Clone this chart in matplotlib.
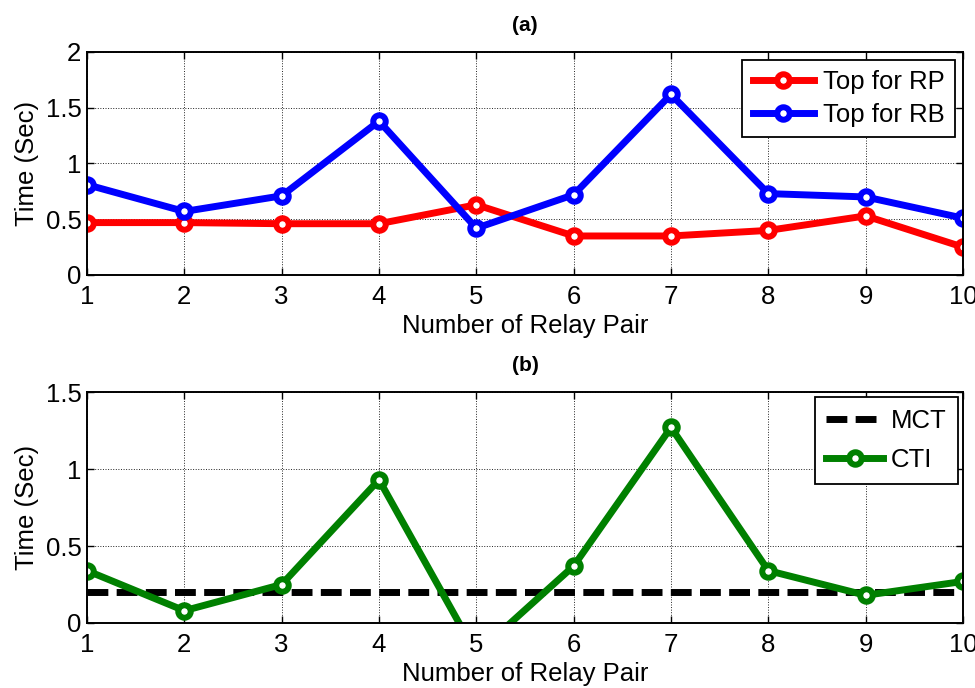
import matplotlib
matplotlib.use("Agg")
import matplotlib.pyplot as plt

relay_pairs = [1, 2, 3, 4, 5, 6, 7, 8, 9, 10]
top_rp = [0.47, 0.47, 0.46, 0.46, 0.63, 0.35, 0.35, 0.40, 0.53, 0.25]
top_rb = [0.81, 0.57, 0.71, 1.38, 0.42, 0.72, 1.62, 0.73, 0.70, 0.51]
cti = [0.34, 0.08, 0.25, 0.93, -0.20, 0.37, 1.27, 0.34, 0.18, 0.27]
mct = 0.2

plt.rcParams['font.family'] = ['Liberation Sans', 'DejaVu Sans']
FS = 18.5

fig = plt.figure(figsize=(9.75, 6.88), dpi=100)
ax1 = fig.add_axes([87/975, 1-275/688, 876/975, 223/688])
ax2 = fig.add_axes([87/975, 1-623/688, 876/975, 231/688])

lw = 5
mk = dict(marker='o', markersize=9, markerfacecolor='white', markeredgewidth=4.3)

ax1.plot(relay_pairs, top_rp, color='#ff0000', lw=lw, markeredgecolor='#ff0000', label='Top for RP', **mk)
ax1.plot(relay_pairs, top_rb, color='#0000ff', lw=lw, markeredgecolor='#0000ff', label='Top for RB', **mk)
ax1.set_ylim(0, 2)
ax1.set_yticks([0, 0.5, 1, 1.5, 2])
ax1.set_yticklabels(['0', '0.5', '1', '1.5', '2'])
ax1.set_title('(a)', fontsize=15, fontweight='bold', pad=15)
leg1 = ax1.legend(loc='upper right', fontsize=FS, handlelength=2.4, frameon=True, fancybox=False,
                  edgecolor='black', framealpha=1, borderaxespad=0.3, labelspacing=0.35,
                  handletextpad=0.35, borderpad=0.4)
leg1.get_frame().set_linewidth(1.3)

mline, = ax2.plot([relay_pairs[0], relay_pairs[-1]], [mct, mct], color='black', lw=lw, label='MCT')
mline.set_dashes((3.0, 1.2))
ax2.plot(relay_pairs, cti, color='#008000', lw=lw, markeredgecolor='#008000', label='CTI', **mk)
ax2.set_ylim(0, 1.5)
ax2.set_yticks([0, 0.5, 1, 1.5])
ax2.set_yticklabels(['0', '0.5', '1', '1.5'])
ax2.set_title('(b)', fontsize=15, fontweight='bold', pad=15)
leg2 = ax2.legend(loc='upper right', fontsize=FS, handlelength=2.2, frameon=True, fancybox=False,
                  edgecolor='black', framealpha=1, borderaxespad=0.2, labelspacing=0.6,
                  handletextpad=0.3, borderpad=0.45)
leg2.get_frame().set_linewidth(1.3)

for ax in (ax1, ax2):
    ax.set_xlim(1, 10)
    ax.set_xticks(relay_pairs)
    ax.set_xticklabels([str(v) for v in relay_pairs])
    ax.grid(True, color='#222222', linestyle=':', linewidth=0.7)
    ax.tick_params(direction='in', labelsize=FS, length=5, width=1, top=True, right=True)
    ax.tick_params(axis='x', pad=7)
    ax.tick_params(axis='y', pad=4)
    for s in ax.spines.values():
        s.set_linewidth(1.4)
    ax.set_xlabel('Number of Relay Pair', fontsize=FS, labelpad=4)
    ax.set_ylabel('Time (Sec)', fontsize=FS, labelpad=5)

fig.savefig('out.png', dpi=100)
